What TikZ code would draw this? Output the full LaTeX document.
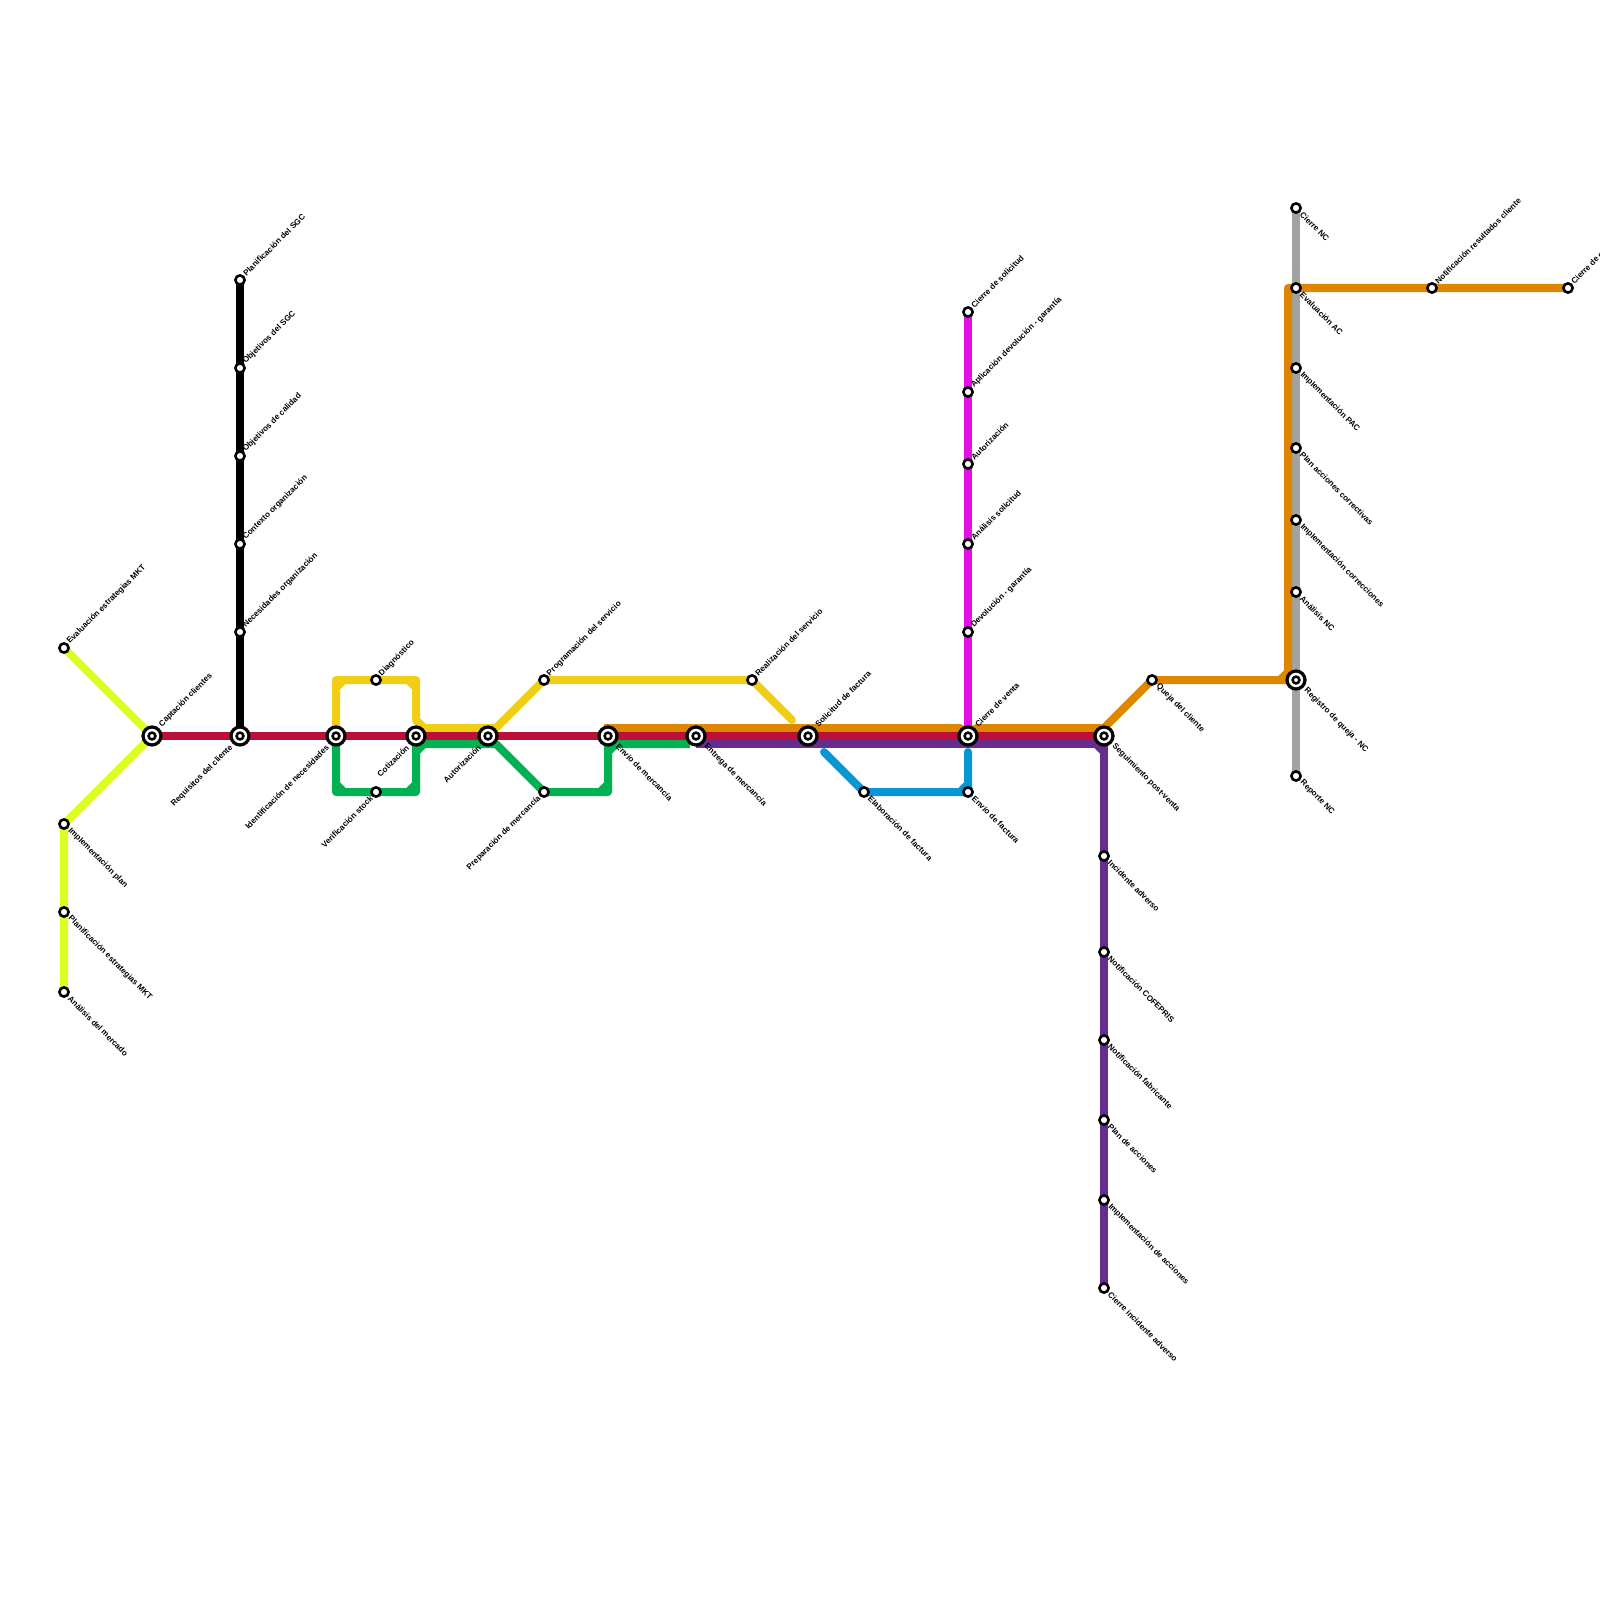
\documentclass[tikz,border=0pt]{standalone}
\usepackage{fontspec}
\setmainfont{Liberation Sans}
\definecolor{cred}{HTML}{BD1038}
\definecolor{cyel}{HTML}{F0CE15}
\definecolor{cgrn}{HTML}{00B251}
\definecolor{cora}{HTML}{DF8600}
\definecolor{cpur}{HTML}{662C90}
\definecolor{cblu}{HTML}{0896D7}
\definecolor{cmag}{HTML}{E60FE6}
\definecolor{cgry}{HTML}{A1A2A1}
\definecolor{clim}{HTML}{DDFF22}
\tikzset{
  route/.style={line width=0.08cm,line join=round},
  chamfer/.style={line width=0.08cm},
  endround/.style={line cap=round},
  small/.style={circle,draw=black,fill=white,line width=0.026cm,minimum size=0.092cm,inner sep=0pt},
  big/.style={circle,draw=black,fill=white,line width=0.032cm,minimum size=0.18cm,inner sep=0pt,
    path picture={\draw[black,line width=0.025cm] (path picture bounding box.center) circle (0.034cm);}},
  lab/.style={inner sep=0pt,font=\fontsize{2.3pt}{2.8pt}\selectfont\bfseries},
  ne/.style={lab,rotate=45,anchor=west},
  se/.style={lab,rotate=-45,anchor=west},
  sw/.style={lab,rotate=45,anchor=east}
}
\newcommand{\lb}[5]{\node[#2] (l#1) at ([shift={(#3,#4)}]#1.center) {#5};}
\begin{document}
\begin{tikzpicture}[x=0.01cm,y=-0.01cm]
\useasboundingbox (0,0) rectangle (1600,1600);
\foreach \n/\x/\y in {
 capta/152/736,requi/240/736,ident/336/736,cotiz/416/736,autor/488/736,envme/608/736,
 entre/696/736,solic/808/736,cvent/968/736,segui/1104/736,regis/1296/680}
 {\coordinate (p\n) at (\x,\y);}
\foreach \n/\x/\y in {
 evalm/64/648,imppl/64/824,plane/64/912,anali/64/992,
 bk1/240/280,bk2/240/368,bk3/240/456,bk4/240/544,bk5/240/632,
 diagn/376/680,verif/376/792,progr/544/680,prepa/544/792,reali/752/680,
 elabo/864/792,envfa/968/792,
 mg1/968/312,mg2/968/392,mg3/968/464,mg4/968/544,mg5/968/632,
 pu1/1104/856,pu2/1104/952,pu3/1104/1040,pu4/1104/1120,pu5/1104/1200,pu6/1104/1288,
 queja/1152/680,
 gr1/1296/208,gr2/1296/288,gr3/1296/368,gr4/1296/448,gr5/1296/520,gr6/1296/592,gr7/1296/776,
 notif/1432/288,cierr/1568/288}
 {\coordinate (p\n) at (\x,\y);}
% routes
\draw[route,cgry] (pgr1) -- (pgr7);
\draw[route,clim] (pevalm) -- (pcapta) -- (pimppl) -- (panali);
\fill[clim] (146,728) -- (158,728) -- (158,744) -- (146,744) -- cycle;
\draw[route,black] (pbk1) -- (prequi);
\draw[route,cmag] (pmg1) -- (pcvent);
\draw[route,cyel] (pident) -- (336,680) -- (416,680) -- (416,720) -- (424,728) -- (496,728) -- (pprogr) -- (preali);
\draw[chamfer,cyel] (336,688) -- (344,680) (408,680) -- (416,688) (416,720) -- (424,728);
\draw[route,cyel,endround] (preali) -- (792,720);
\draw[route,cgrn] (pident) -- (336,792) -- (416,792) -- (416,744) -- (496,744) -- (pprepa) -- (608,792) -- (608,744) -- (690,744);
\draw[chamfer,cgrn] (336,784) -- (344,792) (408,792) -- (416,784) (416,752) -- (424,744) (600,792) -- (608,784) (608,752) -- (616,744);
\draw[route,cora] (604,728) -- (960,728) -- (968,736) -- (976,728) -- (1104,728) -- (pqueja) -- (1288,680) -- (1288,288) -- (pcierr);
\draw[chamfer,cora] (1280,680) -- (1288,672);
\draw[route,cpur] (696,744) -- (1104,744) -- (ppu6);
\draw[chamfer,cpur] (1096,744) -- (1104,752);
\draw[route,cred] (pcapta) -- (psegui);
\draw[route,cblu,endround] (824,752) -- (pelabo) -- (penvfa) -- (968,752);
\draw[chamfer,cblu] (960,792) -- (968,784);
% stations
\foreach \n in {capta,requi,ident,cotiz,autor,envme,entre,solic,cvent,segui,regis}
 {\node[big] (\n) at (p\n) {};}
\foreach \n in {evalm,imppl,plane,anali,bk1,bk2,bk3,bk4,bk5,diagn,verif,progr,prepa,reali,elabo,envfa,mg1,mg2,mg3,mg4,mg5,pu1,pu2,pu3,pu4,pu5,pu6,queja,gr1,gr2,gr3,gr4,gr5,gr6,gr7,notif,cierr}
 {\node[small] (\n) at (p\n) {};}
% labels
\lb{evalm}{ne}{4}{-5}{Evaluación estrategias MKT}
\lb{capta}{ne}{8}{-10}{Captación clientes}
\lb{imppl}{se}{5}{5}{Implementación plan}
\lb{plane}{se}{5}{5}{Planificación estrategias MKT}
\lb{anali}{se}{5}{5}{Análisis del mercado}
\lb{requi}{sw}{-8}{10}{Requisitos del cliente}
\lb{bk1}{ne}{4}{-5}{Planificación del SGC}
\lb{bk2}{ne}{4}{-5}{Objetivos del SGC}
\lb{bk3}{ne}{4}{-5}{Objetivos de calidad}
\lb{bk4}{ne}{4}{-5}{Contexto organización}
\lb{bk5}{ne}{4}{-5}{Necesidades organización}
\lb{ident}{sw}{-8}{10}{Identificación de necesidades}
\lb{diagn}{ne}{4}{-5}{Diagnóstico}
\lb{verif}{sw}{-4}{5}{Verificación stock}
\lb{cotiz}{sw}{-8}{10}{Cotización}
\lb{autor}{sw}{-8}{10}{Autorización}
\lb{progr}{ne}{4}{-5}{Programación del servicio}
\lb{prepa}{sw}{-4}{5}{Preparación de mercancía}
\lb{envme}{se}{9}{9}{Envío de mercancía}
\lb{entre}{se}{9}{9}{Entrega de mercancía}
\lb{reali}{ne}{4}{-5}{Realización del servicio}
\lb{solic}{ne}{8}{-10}{Solicitud de factura}
\lb{elabo}{se}{5}{5}{Elaboración de factura}
\lb{envfa}{se}{5}{5}{Envío de factura}
\lb{cvent}{ne}{8}{-10}{Cierre de venta}
\lb{mg1}{ne}{4}{-5}{Cierre de solicitud}
\lb{mg2}{ne}{4}{-5}{Aplicación devolución - garantía}
\lb{mg3}{ne}{4}{-5}{Autorización}
\lb{mg4}{ne}{4}{-5}{Análisis solicitud}
\lb{mg5}{ne}{4}{-5}{Devolución - garantía}
\lb{segui}{se}{9}{9}{Seguimiento post-venta}
\lb{pu1}{se}{5}{5}{Incidente adverso}
\lb{pu2}{se}{5}{5}{Notificación COFEPRIS}
\lb{pu3}{se}{5}{5}{Notificación fabricante}
\lb{pu4}{se}{5}{5}{Plan de acciones}
\lb{pu5}{se}{5}{5}{Implementación de acciones}
\lb{pu6}{se}{5}{5}{Cierre incidente adverso}
\lb{queja}{se}{5}{5}{Queja del cliente}
\lb{gr1}{se}{5}{5}{Cierre NC}
\lb{gr2}{se}{5}{5}{Evaluación AC}
\lb{gr3}{se}{5}{5}{Implementación PAC}
\lb{gr4}{se}{5}{5}{Plan acciones correctivas}
\lb{gr5}{se}{5}{5}{Implementación correcciones}
\lb{gr6}{se}{5}{5}{Análisis NC}
\lb{regis}{se}{9}{9}{Registro de queja - NC}
\lb{gr7}{se}{5}{5}{Reporte NC}
\lb{notif}{ne}{4}{-5}{Notificación resultados cliente}
\lb{cierr}{ne}{4}{-5}{Cierre de c}
\end{tikzpicture}
\end{document}
